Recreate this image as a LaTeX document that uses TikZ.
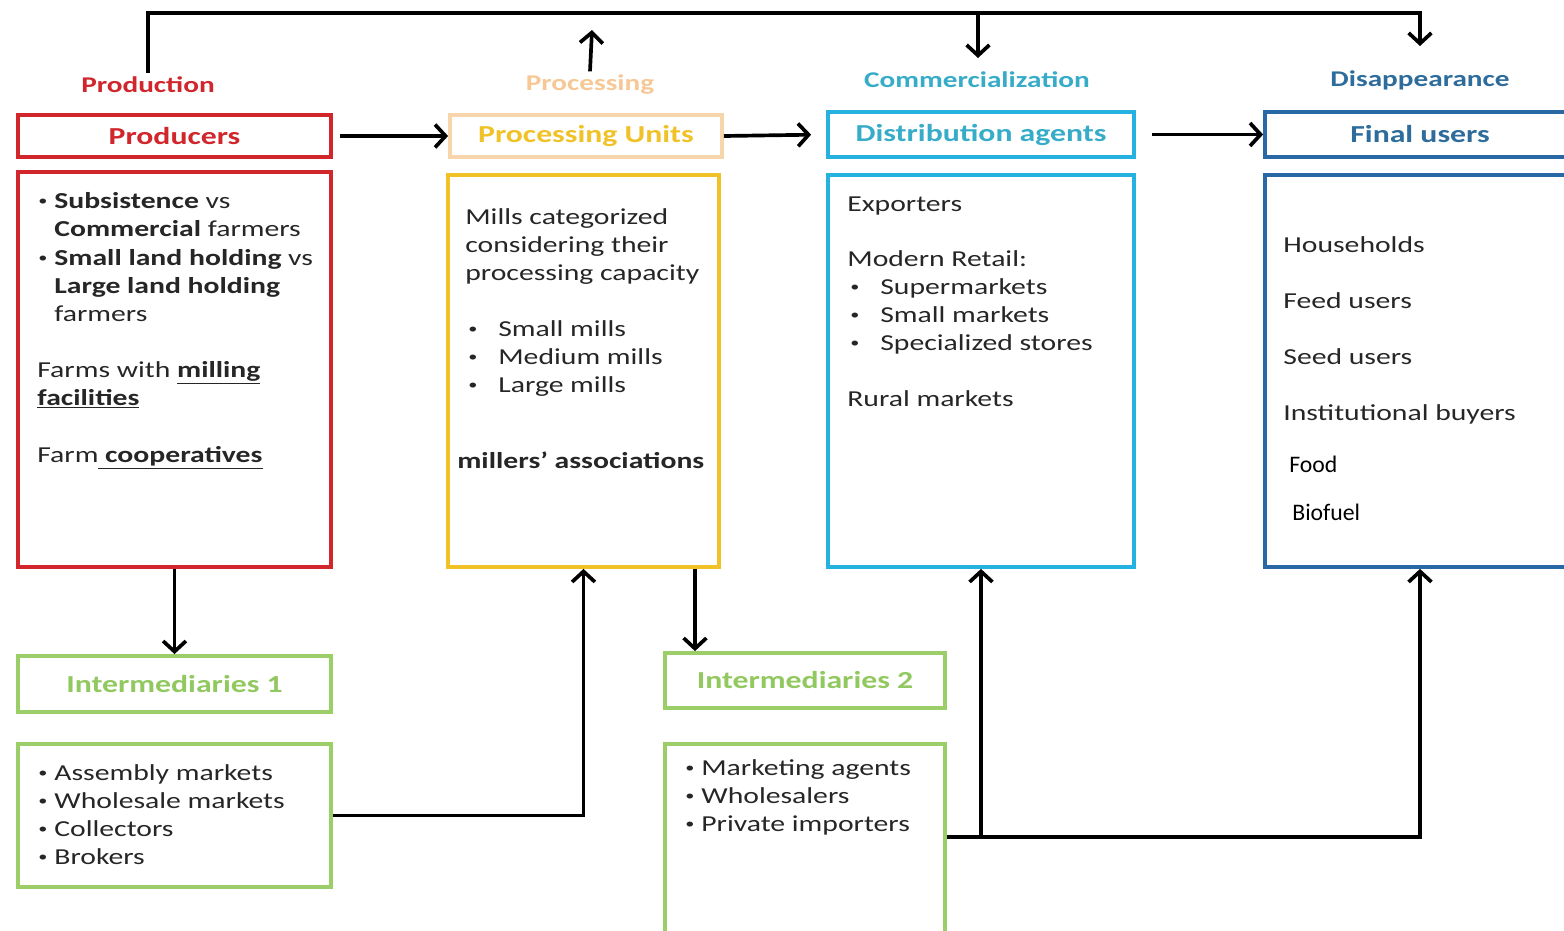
\documentclass[tikz,border=0pt]{standalone}
\usepackage{fontspec}
\setmainfont{Carlito}[FakeStretch=1.3]
\newfontfamily\plainfont{Carlito}
\usetikzlibrary{arrows.meta}
\definecolor{prodred}{RGB}{208,38,44}
\definecolor{procpeach}{RGB}{246,214,170}
\definecolor{procgold}{RGB}{240,194,40}
\definecolor{procstage}{RGB}{246,200,150}
\definecolor{distcyan}{RGB}{38,178,224}
\definecolor{disttext}{RGB}{55,172,200}
\definecolor{finalblue}{RGB}{40,105,165}
\definecolor{finaltext}{RGB}{45,108,155}
\definecolor{intgreen}{RGB}{155,205,105}
\definecolor{inttext}{RGB}{145,200,95}
\definecolor{txtgray}{RGB}{38,38,38}
\newcommand\dotmark[1]{\makebox[#1][l]{\raisebox{0.2ex}{\fontsize{8}{8}\selectfont•}}}
\tikzset{
  head/.style={draw, line width=2.2pt, minimum height=0.84cm, inner sep=0pt,
    font=\bfseries\fontsize{13.9}{16}\selectfont},
  body/.style={draw, line width=2.2pt, inner sep=0pt},
  stage/.style={inner sep=2pt, font=\bfseries\fontsize{12.8}{15}\selectfont},
  txt/.style={anchor=base west, inner sep=0pt, text=txtgray,
    font=\fontsize{13}{15.9}\selectfont},
  flow/.style={-{Straight Barb[length=6pt,width=13pt]}, line width=2.1pt}
}
\begin{document}
\begin{tikzpicture}[x=0.02cm, y=-0.02cm]
    \useasboundingbox (0,0) rectangle (1564,930);
    % stage labels
    \node[stage, text=prodred] (stprod) at (148,85) {Production};
    \node[stage, text=procstage] (stproc) at (590,85) {Processing};
    \node[stage, text=disttext] (stcomm) at (977,80) {Commercialization};
    \node[stage, text=finaltext] (stdisp) at (1420,80) {Disappearance};
    % header boxes
    \node[head, draw=prodred, text=prodred, minimum width=6.26cm] (prodhead) at (174.5,136) {Producers};
    \node[head, draw=procpeach, text=procgold, minimum width=5.44cm] (prochead) at (586,136) {Processing Units};
    \node[head, draw=distcyan, text=disttext, minimum width=6.12cm, minimum height=0.9cm] (disthead) at (981,134.5) {Distribution agents};
    \node[head, draw=finalblue, text=finaltext, minimum width=6.2cm, minimum height=0.9cm] (finalhead) at (1420,134.5) {Final users};
    \node[head, draw=intgreen, text=inttext, minimum width=6.26cm, minimum height=1.12cm] (int1head) at (174.5,684) {Intermediaries 1};
    \node[head, draw=intgreen, text=inttext, minimum width=5.6cm, minimum height=1.1cm] (int2head) at (805,680.5) {Intermediaries 2};
    % body boxes
    \node[body, draw=prodred, minimum width=6.26cm, minimum height=7.9cm] (prodbody) at (174.5,369.5) {};
    \node[body, draw=procgold, minimum width=5.42cm, minimum height=7.84cm] (procbody) at (583.5,371) {};
    \node[body, draw=distcyan, minimum width=6.12cm, minimum height=7.84cm] (distbody) at (981,371) {};
    \node[body, draw=finalblue, minimum width=6.2cm, minimum height=7.84cm] (finalbody) at (1420,371) {};
    \node[body, draw=intgreen, minimum width=6.26cm, minimum height=2.86cm] (int1body) at (174.5,815.5) {};
    \node[body, draw=intgreen, minimum width=5.6cm, minimum height=4.02cm] (int2body) at (805,844.5) {};
    % box texts
    \foreach \x/\y/\t [count=\i] in {38/208/{\dotmark{0.32cm}\textbf{Subsistence} vs}, 54/236/{\textbf{Commercial} farmers},
        38/265/{\dotmark{0.32cm}\textbf{Small land holding} vs}, 54/293/{\textbf{Large land holding}}, 54/321/{farmers},
        37/377/{Farms with \underline{\textbf{milling}}}, 37/405/{\underline{\textbf{facilities}}},
        37/462/{Farm\underline{\textbf{~cooperatives}}}}
        \node[txt] (prodt\i) at (\x,\y) {\t};
    \foreach \x/\y/\t [count=\i] in {465/224/{Mills categorized}, 465/252/{considering their},
        465/280/{processing capacity}, 468/336/{\dotmark{0.6cm}Small mills},
        468/364/{\dotmark{0.6cm}Medium mills}, 468/392/{\dotmark{0.6cm}Large mills},
        457/468/{\textbf{millers’ associations}}}
        \node[txt] (proct\i) at (\x,\y) {\t};
    \foreach \x/\y/\t [count=\i] in {847/211/{Exporters}, 847/266/{Modern Retail:},
        850/294/{\dotmark{0.6cm}Supermarkets}, 850/322/{\dotmark{0.6cm}Small markets},
        850/350/{\dotmark{0.6cm}Specialized stores}, 847/406/{Rural markets}}
        \node[txt] (distt\i) at (\x,\y) {\t};
    \foreach \y/\t [count=\i] in {252/{Households}, 308/{Feed users}, 364/{Seed users}, 420/{Institutional buyers}}
        \node[txt] (finalt\i) at (1283,\y) {\t};
    \node[txt, text=black, font=\plainfont\fontsize{13.5}{16}\selectfont] (finalt5) at (1289,472) {Food};
    \node[txt, text=black, font=\plainfont\fontsize{13.5}{16}\selectfont] (finalt6) at (1292,520) {Biofuel};
    \foreach \y/\t [count=\i] in {780/{Assembly markets}, 808/{Wholesale markets}, 836/{Collectors}, 864/{Brokers}}
        \node[txt] (int1t\i) at (38,\y) {\dotmark{0.32cm}\t};
    \foreach \y/\t [count=\i] in {775/{Marketing agents}, 803/{Wholesalers}, 831/{Private importers}}
        \node[txt] (int2t\i) at (685,\y) {\dotmark{0.32cm}\t};
    % connectors
    \coordinate (ridge) at (0,13);
    \coordinate (commtip) at (978,58);
    \coordinate (disptip) at (1420,46);
    \coordinate (proctip) at (592,30);
    \coordinate (split) at (981,837);
    \draw[flow] (stprod.north) |- (disptip |- ridge) -- (disptip);
    \draw[flow] (commtip |- ridge) -- (commtip);
    \draw[flow] (stproc.north) -- (proctip);
    \draw[flow, shorten <=0.14cm] (prodhead.east) -- (prochead.west);
    \draw[flow, shorten >=0.3cm] (prochead.east) -- (disthead.west);
    \draw[flow, shorten <=0.32cm] (disthead.east) -- (finalhead.west);
    \draw[flow] (prodbody.south) -- (int1head.north);
    \draw[flow] (int1body.east) -| (procbody.south);
    \draw[flow] ([xshift=2.23cm]procbody.south) -- ([xshift=2.23cm]procbody.south |- int2head.north);
    \draw[flow] ([yshift=0.15cm]int2body.east) -| (finalbody.south);
    \draw[flow] (split) -- (distbody.south);
\end{tikzpicture}
\end{document}
